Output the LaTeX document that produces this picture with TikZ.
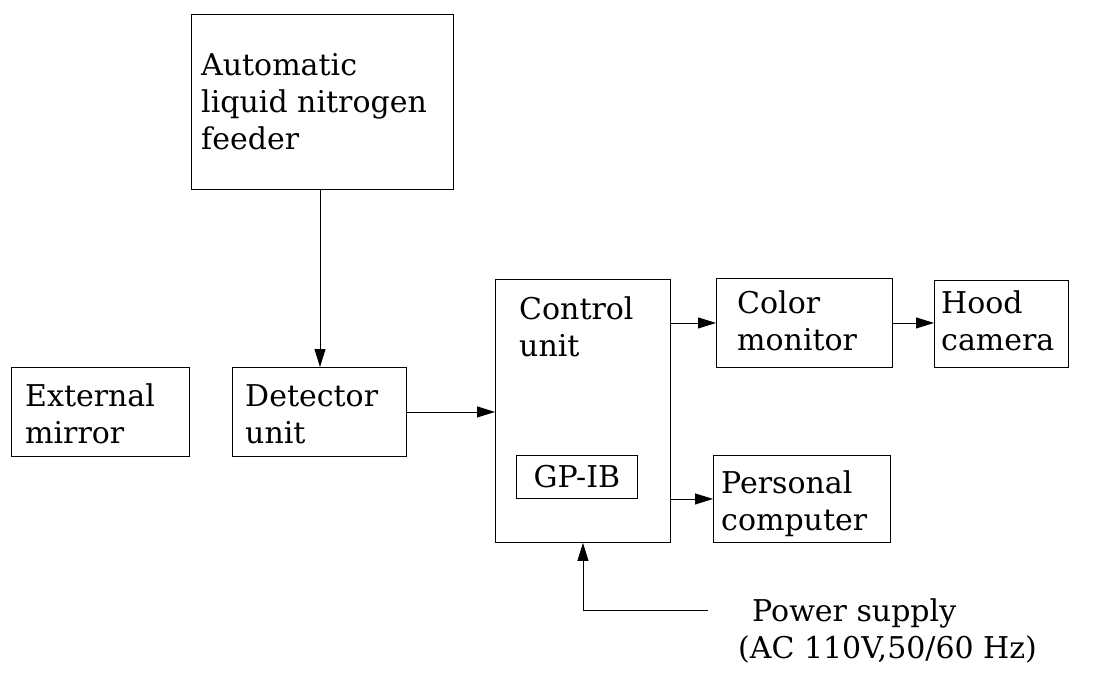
\documentclass[tikz,border=0pt]{standalone}
\usepackage{fontspec}
\setmainfont{DejaVu Serif}
\usetikzlibrary{arrows.meta}
\begin{document}
\begin{tikzpicture}[x=1pt,y=-1pt,
  box/.style={draw, line width=0.9pt, inner sep=0pt, anchor=north west},
  lbl/.style={anchor=north west, inner sep=0pt, align=left, font=\fontsize{30}{37}\selectfont},
  conn/.style={line width=0.9pt, -{Triangle[length=18pt,width=11pt]}}]
\useasboundingbox (0,0) rectangle (1098,675);
% boxes
\node[box, minimum width=262pt, minimum height=175pt] (feeder) at (191,14) {};
\node[box, minimum width=178pt, minimum height=89pt] (mirror) at (11,367) {};
\node[box, minimum width=174pt, minimum height=89pt] (detector) at (232,367) {};
\node[box, minimum width=175pt, minimum height=263pt] (control) at (495,279) {};
\node[box, minimum width=121pt, minimum height=43pt, font=\fontsize{30}{37}\selectfont] (gpib) at (516,455) {GP-IB};
\node[box, minimum width=176pt, minimum height=89pt] (color) at (716,278) {};
\node[box, minimum width=134pt, minimum height=87pt] (hood) at (934,280) {};
\node[box, minimum width=177pt, minimum height=87pt] (pc) at (713,455) {};
% texts
\node[lbl] (feedertxt) at (201,53) {Automatic\\liquid nitrogen\\feeder};
\node[lbl] (mirrortxt) at (25,384) {External\\mirror};
\node[lbl] (detectortxt) at (245,384) {Detector\\unit};
\node[lbl] (controltxt) at (519,297) {Control\\unit};
\node[lbl] (colortxt) at (737,291) {Color\\monitor};
\node[lbl] (hoodtxt) at (941,291) {Hood\\camera};
\node[lbl] (pctxt) at (721,470) {Personal\\computer};
\node[lbl] (powertxt) at (738,598) {\hspace*{14pt}Power supply\\(AC 110V,50/60 Hz)};
% connectors
\draw[conn] (feeder.south -| 320,0) -- (320,0 |- detector.north);
\draw[conn] (detector.east) -- (detector.east -| control.west);
\draw[conn] (control.east |- color.west) -- (color.west);
\draw[conn] (color.east) -- (color.east -| hood.west);
\draw[conn] (control.east |- pc.west) -- (pc.west);
\coordinate (ps) at (708,610);
\draw[conn] (ps) -| (control.south);
\end{tikzpicture}
\end{document}
